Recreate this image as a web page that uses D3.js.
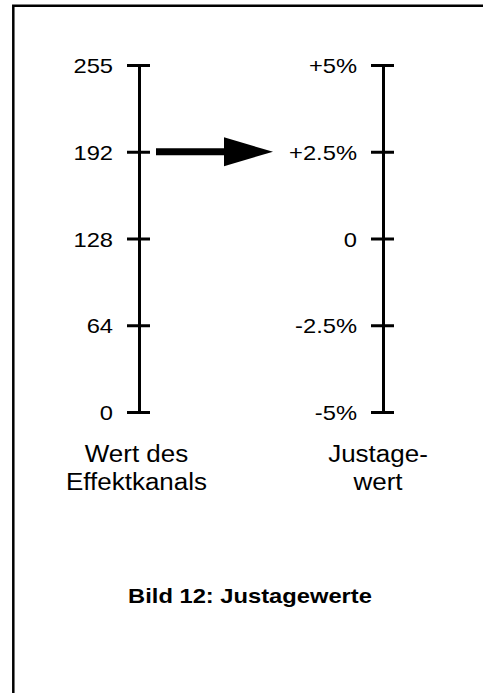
<!DOCTYPE html>
<meta charset="utf-8">

<head>
  <script src="https://d3js.org/d3.v7.min.js"></script>
  <style>
    body { margin: 0; background: #fff; }
    svg text {
      font-family: "Liberation Sans", Arial, Helvetica, sans-serif;
      font-size: 21px;
      fill: #000;
      transform-box: fill-box;
    }
    /* the source picture is a little wider than tall, stretch text to match */
    .wide-end { transform: scaleX(1.13); transform-origin: right center; }
    .wide-mid { transform: scaleX(1.13); transform-origin: center center; }
    .axis-title { font-size: 23px; }
  </style>
</head>

<body>
  <svg id="root"></svg>

  <script>
    // tick labels, bottom to top
    const leftTicks = ["0", "64", "128", "192", "255"];
    const rightTicks = ["-5%", "-2.5%", "0", "+2.5%", "+5%"];
    const leftTitle = ["Wert des", "Effektkanals"];
    const rightTitle = ["Justage-", "wert"];
    const caption = "Bild 12: Justagewerte";
    // arrow goes from this left value to this right value
    const arrowFrom = "192", arrowTo = "+2.5%";

    const width = 483, height = 693;
    const leftX = 139, rightX = 383;

    const svg = d3.select("#root")
      .attr("width", width)
      .attr("height", height);

    // frame (top and left edges only are visible)
    svg.append("path")
      .attr("d", `M13.3,${height} V5.7 H${width}`)
      .attr("fill", "none")
      .attr("stroke", "#000")
      .attr("stroke-width", 2.5);

    const yLeft = d3.scalePoint(leftTicks, [412, 65]);
    const yRight = d3.scalePoint(rightTicks, [412, 65]);

    function drawAxis(scale, x) {
      const g = svg.append("g")
        .attr("transform", `translate(${x},0)`)
        .call(d3.axisLeft(scale).tickSizeInner(12).tickSizeOuter(0).tickPadding(14));
      g.select(".domain").attr("stroke", "#000").attr("stroke-width", 3);
      g.selectAll(".tick line")
        .attr("x1", 11)
        .attr("stroke", "#000")
        .attr("stroke-width", 3);
      g.selectAll(".tick text")
        .attr("class", "wide-end")
        .attr("dy", "0.36em")
        .style("font-size", "21px")
        .style("font-family", "'Liberation Sans', Arial, sans-serif");
      return g;
    }

    drawAxis(yLeft, leftX);
    drawAxis(yRight, rightX);

    // axis titles
    function drawTitle(lines, x) {
      svg.append("g").selectAll("text")
        .data(lines)
        .join("text")
        .attr("class", "wide-mid axis-title")
        .attr("x", x)
        .attr("y", (d, i) => 462 + i * 28)
        .attr("text-anchor", "middle")
        .text(d => d);
    }
    drawTitle(leftTitle, leftX - 2.5);
    drawTitle(rightTitle, rightX - 5);

    // arrow
    const ay = (yLeft(arrowFrom) + yRight(arrowTo)) / 2;
    const x0 = leftX + 17, xTip = rightX - 110, headLen = 49, headHalf = 14.5;
    svg.append("line")
      .attr("x1", x0).attr("x2", xTip - headLen + 1)
      .attr("y1", ay).attr("y2", ay)
      .attr("stroke", "#000")
      .attr("stroke-width", 7);
    svg.append("path")
      .attr("d", `M${xTip - headLen},${ay - headHalf} L${xTip},${ay} L${xTip - headLen},${ay + headHalf} Z`)
      .attr("fill", "#000");

    // caption
    svg.append("text")
      .attr("class", "wide-mid")
      .attr("x", 250)
      .attr("y", 603)
      .attr("text-anchor", "middle")
      .style("font-weight", "bold")
      .text(caption);
  </script>
</body>
